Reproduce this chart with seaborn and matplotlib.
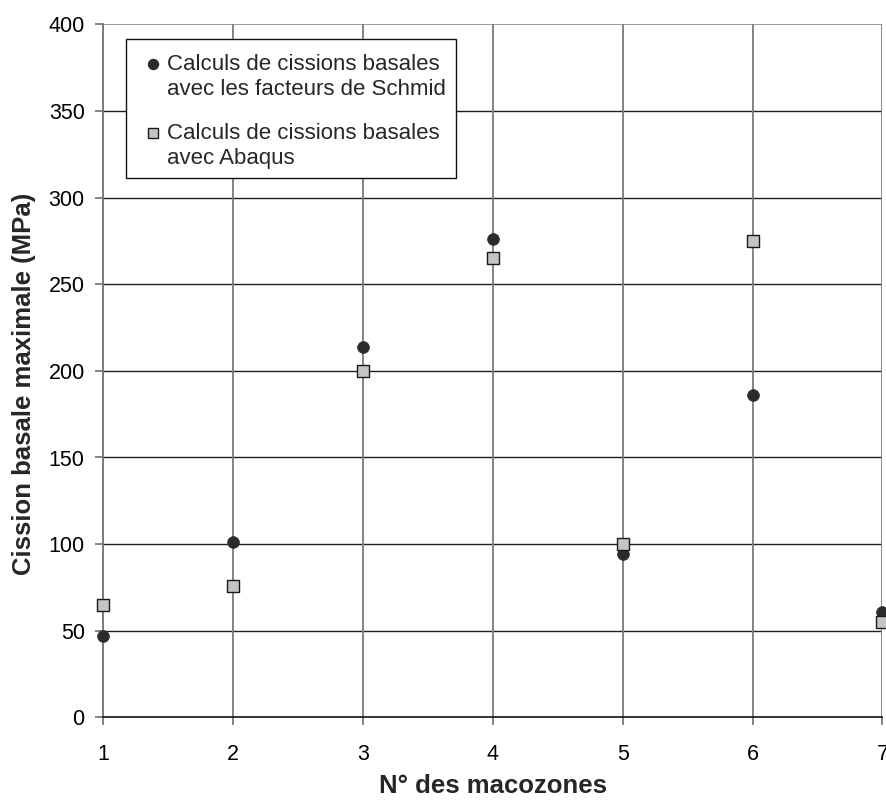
import matplotlib
matplotlib.use("Agg")
import matplotlib.pyplot as plt
import seaborn as sns
import pandas as pd
from matplotlib.lines import Line2D
from matplotlib.patches import Rectangle
from matplotlib.legend_handler import HandlerLine2D

macozones = [1, 2, 3, 4, 5, 6, 7]
schmid = [47, 101, 214, 276, 94, 186, 61]
abaqus = [65, 76, 200, 265, 100, 275, 55]
label_schmid = "Calculs de cissions basales\navec les facteurs de Schmid"
label_abaqus = "Calculs de cissions basales\navec Abaqus"

sns.set_theme(style="white")
plt.rcParams['font.family'] = ['Liberation Sans', 'DejaVu Sans']

df_s = pd.DataFrame({"x": macozones, "y": schmid})
df_a = pd.DataFrame({"x": macozones, "y": abaqus})

W, H = 887, 805
fig = plt.figure(figsize=(W / 100, H / 100), dpi=100)
L, R, T, B = 103.5, 882.5, 24.5, 717.3
ax = fig.add_axes([L / W, 1 - B / H, (R - L) / W, (B - T) / H])

sns.scatterplot(data=df_s, x="x", y="y", ax=ax, marker="o", s=72,
                color="#2b2b2b", edgecolor="#2b2b2b", linewidth=0.5, zorder=4,
                clip_on=False)
sns.scatterplot(data=df_a, x="x", y="y", ax=ax, marker="s", s=72,
                color="#c4c4c4", edgecolor="#1a1a1a", linewidth=1.0, zorder=5,
                clip_on=False)

ax.set_xlim(1, 7)
ax.set_ylim(0, 400)
ax.set_xticks(macozones)
ax.set_yticks(range(0, 401, 50))
ax.grid(False)
for yv in range(50, 400, 50):
    ax.axhline(yv, color="#1e1e1e", lw=1.0, zorder=1)
ax.axhline(400, color="#8a8a8a", lw=1.2, zorder=1)
for xv in macozones[1:]:
    ax.axvline(xv, color="#7a7a7a", lw=1.3, zorder=1)

for s in ["top", "right"]:
    ax.spines[s].set_visible(False)
ax.spines["left"].set_color("#707070")
ax.spines["left"].set_linewidth(1.3)
ax.spines["bottom"].set_color("#111111")
ax.spines["bottom"].set_linewidth(1.2)

ax.tick_params(axis="both", direction="out", length=5.5, width=1.2, color="#707070",
               labelsize=15.5, labelcolor="black", left=True, bottom=True)
ax.tick_params(axis="y", pad=8)
ax.tick_params(axis="x", pad=14)
ax.set_xlabel("N° des macozones", fontsize=18.5, fontweight="bold")
ax.set_ylabel("Cission basale maximale (MPa)", fontsize=18.5, fontweight="bold")
ax.xaxis.set_label_coords(0.5, (B - 774) / (B - T))
ax.yaxis.set_label_coords((36 - L) / (R - L), (B - 383.5) / (B - T))


class FirstLineHandler(HandlerLine2D):
    def create_artists(self, legend, orig_handle, xdescent, ydescent, width, height,
                       fontsize, trans):
        artists = super().create_artists(legend, orig_handle, xdescent, ydescent,
                                         width, height, fontsize, trans)
        for a in artists:
            xd = a.get_xdata()
            yd = a.get_ydata()
            a.set_xdata([width - xdescent - 0.65 * fontsize for _ in xd])
            a.set_ydata([y + 0.6 * fontsize for y in yd])
        return artists


handles = [
    Line2D([], [], marker="o", ls="none", color="#2b2b2b", markersize=7.2),
    Line2D([], [], marker="s", ls="none", markerfacecolor="#c4c4c4",
           markeredgecolor="#1a1a1a", markeredgewidth=1.0, markersize=7.5),
]
fs = 16
hl = 1.43
text_left = 167
leg = ax.legend(handles, [label_schmid, label_abaqus], loc="upper left",
                bbox_to_anchor=((text_left - hl * fs * 100 / 72 - L) / (R - L),
                                (B - 53.5) / (B - T)),
                fontsize=fs, frameon=False,
                handlelength=hl, handletextpad=0.0, borderpad=0.0, labelspacing=1.0,
                borderaxespad=0, handler_map={Line2D: FirstLineHandler()})
for t in leg.get_texts():
    t.set_linespacing(1.3)
leg.set_zorder(10)

frame = Rectangle((126 / W, 1 - 178 / H), (456 - 126) / W, (178 - 39) / H,
                  transform=fig.transFigure, facecolor="white", edgecolor="#111111",
                  linewidth=1.0, zorder=9)
ax.add_patch(frame)
frame.set_clip_on(False)

fig.savefig("out.png", dpi=100)
